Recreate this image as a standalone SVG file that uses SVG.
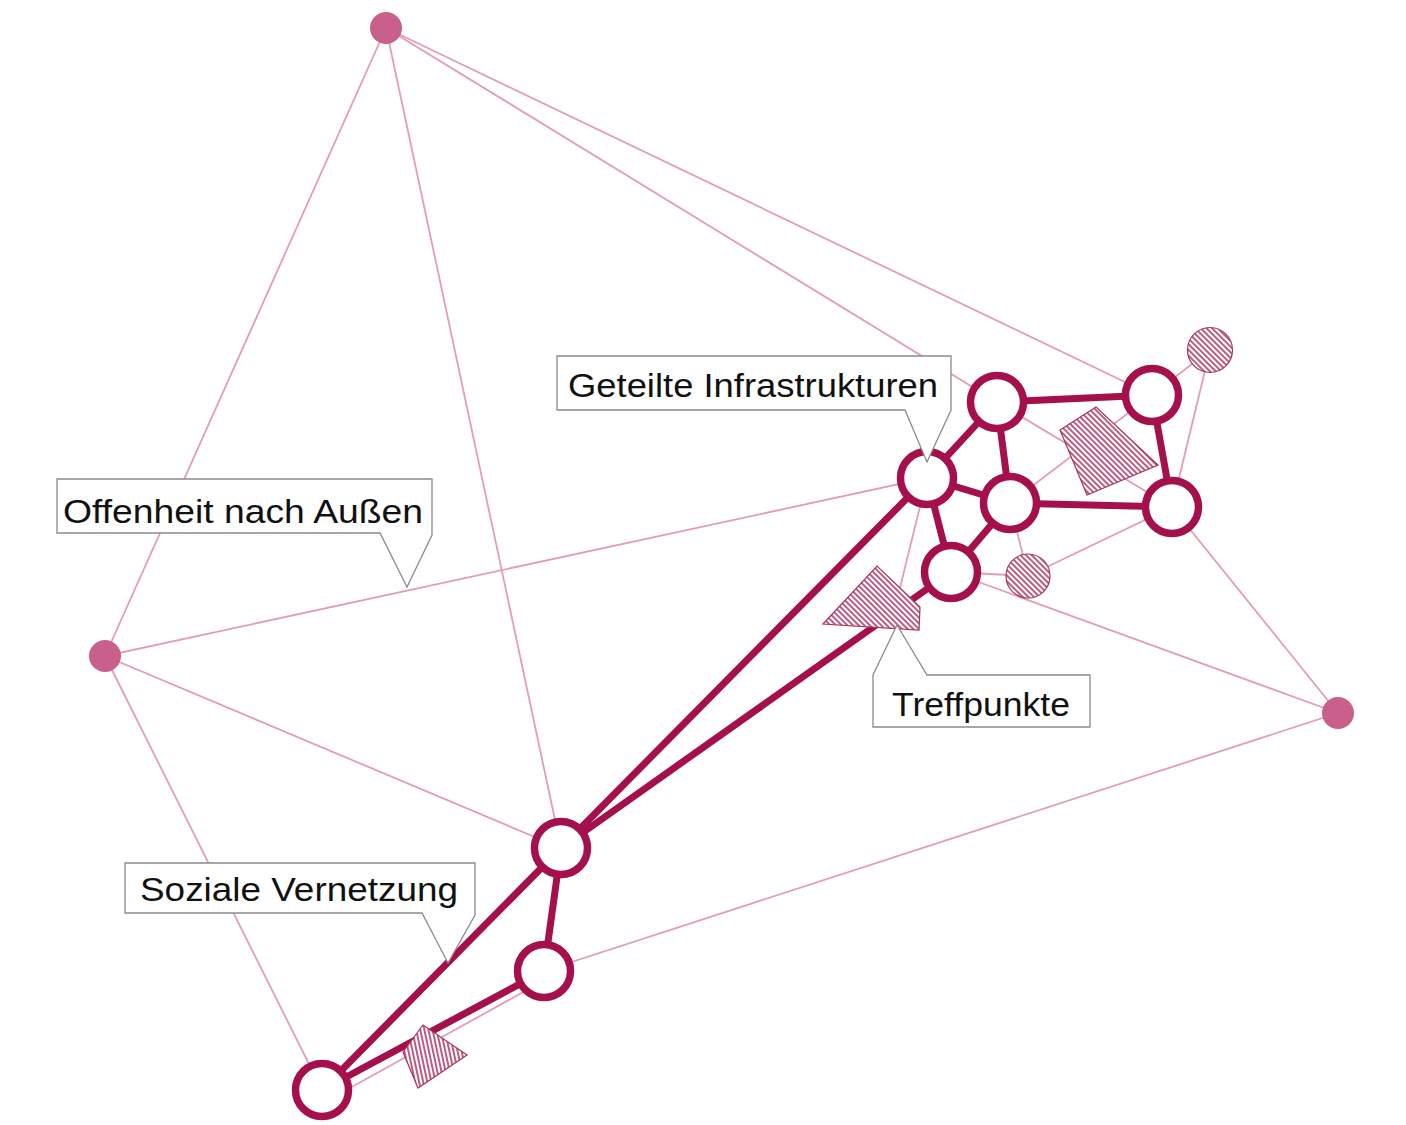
<svg xmlns="http://www.w3.org/2000/svg" width="1406" height="1125" viewBox="0 0 1406 1125">
<defs>
<pattern id="hatch" patternUnits="userSpaceOnUse" width="4" height="4" patternTransform="rotate(-45)">
<rect width="4" height="4" fill="#ffffff"/>
<line x1="1" y1="0" x2="1" y2="4" stroke="#b0406a" stroke-width="1.7"/>
</pattern>
<pattern id="hatch2" patternUnits="userSpaceOnUse" width="4" height="4" patternTransform="rotate(-12)">
<rect width="4" height="4" fill="#ffffff"/>
<line x1="1" y1="0" x2="1" y2="4" stroke="#b0406a" stroke-width="1.7"/>
</pattern>
<style>
.thin{stroke:#e39db4;stroke-width:1.8;fill:none}
.thick{stroke:#a50f4c;stroke-width:7;fill:none;stroke-linecap:round}
.hub{fill:#ffffff;stroke:#a50f4c;stroke-width:7.5}
.ext{fill:#c9608b}
.hat{fill:url(#hatch);stroke:#a8335f;stroke-width:1.2}
.hat2{fill:url(#hatch2);stroke:#a8335f;stroke-width:1.2}
.call{fill:#ffffff;stroke:#8a8a8a;stroke-width:1.3}
.lbl{font-family:"Liberation Sans",Arial,sans-serif;font-size:34px;fill:#111111}
</style>
</defs>
<rect width="1406" height="1125" fill="#ffffff"/>
<g id="connectors">
<g id="thin-edges">
<line class="thin" x1="386" y1="28" x2="105" y2="656"/>
<line class="thin" x1="386" y1="28" x2="561" y2="848"/>
<line class="thin" x1="386" y1="28" x2="997" y2="402"/>
<line class="thin" x1="386" y1="28" x2="1152" y2="395"/>
<line class="thin" x1="105" y1="656" x2="927" y2="478"/>
<line class="thin" x1="105" y1="656" x2="561" y2="848"/>
<line class="thin" x1="105" y1="656" x2="322" y2="1090"/>
<line class="thin" x1="1338" y1="713" x2="544" y2="971"/>
<line class="thin" x1="1338" y1="713" x2="951" y2="572"/>
<line class="thin" x1="1338" y1="713" x2="1172" y2="507"/>
<line class="thin" x1="1172" y1="507" x2="1210" y2="350"/>
<line class="thin" x1="1152" y1="395" x2="1210" y2="350"/>
<line class="thin" x1="1172" y1="507" x2="1028" y2="576"/>
<line class="thin" x1="951" y1="572" x2="1028" y2="576"/>
<line class="thin" x1="1010" y1="503" x2="1028" y2="576"/>
<line class="thin" x1="997" y1="402" x2="1172" y2="507"/>
<line class="thin" x1="1010" y1="503" x2="1152" y2="395"/>
<line class="thin" x1="927" y1="478" x2="897" y2="600"/>
<line class="thin" x1="330" y1="1099" x2="536" y2="985"/>
</g>
<g id="thick-edges">
<line class="thick" x1="322" y1="1090" x2="561" y2="848"/>
<line class="thick" x1="322" y1="1090" x2="544" y2="971"/>
<line class="thick" x1="561" y1="848" x2="544" y2="971"/>
<line class="thick" x1="561" y1="848" x2="927" y2="478"/>
<line class="thick" x1="561" y1="848" x2="951" y2="572"/>
<line class="thick" x1="927" y1="478" x2="997" y2="402"/>
<line class="thick" x1="927" y1="478" x2="1010" y2="503"/>
<line class="thick" x1="927" y1="478" x2="951" y2="572"/>
<line class="thick" x1="997" y1="402" x2="1010" y2="503"/>
<line class="thick" x1="1010" y1="503" x2="951" y2="572"/>
<line class="thick" x1="997" y1="402" x2="1152" y2="395"/>
<line class="thick" x1="1010" y1="503" x2="1172" y2="507"/>
<line class="thick" x1="1152" y1="395" x2="1172" y2="507"/>
</g>
</g>
<g id="hatched-areas">
<polygon id="area1" class="hat" points="1060,430 1096,407 1158,465 1087,495"/>
<polygon id="area2" class="hat" points="823,624 877,566 920,607 919,630"/>
<polygon id="area3" class="hat2" points="403,1052 423,1025 467,1055 418,1088"/>
<circle id="spot1" class="hat" cx="1210" cy="350" r="22.5"/>
<circle id="spot2" class="hat" cx="1028" cy="576" r="22"/>
</g>
<g id="outer-nodes">
<circle id="ext-top" class="ext" cx="386" cy="28" r="16"/>
<circle id="ext-left" class="ext" cx="105" cy="656" r="16"/>
<circle id="ext-right" class="ext" cx="1338" cy="713" r="16"/>
</g>
<g id="hub-nodes">
<circle id="n1" class="hub" cx="927" cy="478" r="26.5"/>
<circle id="n2" class="hub" cx="997" cy="402" r="26.5"/>
<circle id="n3" class="hub" cx="1010" cy="503" r="26.5"/>
<circle id="n4" class="hub" cx="951" cy="572" r="26.5"/>
<circle id="n5" class="hub" cx="1152" cy="395" r="26.5"/>
<circle id="n6" class="hub" cx="1172" cy="507" r="26.5"/>
<circle id="n7" class="hub" cx="561" cy="848" r="26.5"/>
<circle id="n8" class="hub" cx="544" cy="971" r="26.5"/>
<circle id="n9" class="hub" cx="322" cy="1090" r="26.5"/>
</g>
<g id="label-geteilte">
<path class="call" d="M557,356 H951 V410 L927,462 L905,410 H557 Z"/>
<text class="lbl" x="568" y="397" textLength="370" lengthAdjust="spacingAndGlyphs">Geteilte Infrastrukturen</text>
</g>
<g id="label-offenheit">
<path class="call" d="M57,479 H432 V535 L407,587 L380,533 H57 Z"/>
<text class="lbl" x="63" y="523" textLength="360" lengthAdjust="spacingAndGlyphs">Offenheit nach Außen</text>
</g>
<g id="label-soziale">
<path class="call" d="M125,863 H475 V915 L448,963 L422,913 H125 Z"/>
<text class="lbl" x="140" y="901" textLength="318" lengthAdjust="spacingAndGlyphs">Soziale Vernetzung</text>
</g>
<g id="label-treffpunkte">
<path class="call" d="M873,727 V675 L897,625 L927,675 H1090 V727 Z"/>
<text class="lbl" x="892" y="716" textLength="178" lengthAdjust="spacingAndGlyphs">Treffpunkte</text>
</g>
</svg>
